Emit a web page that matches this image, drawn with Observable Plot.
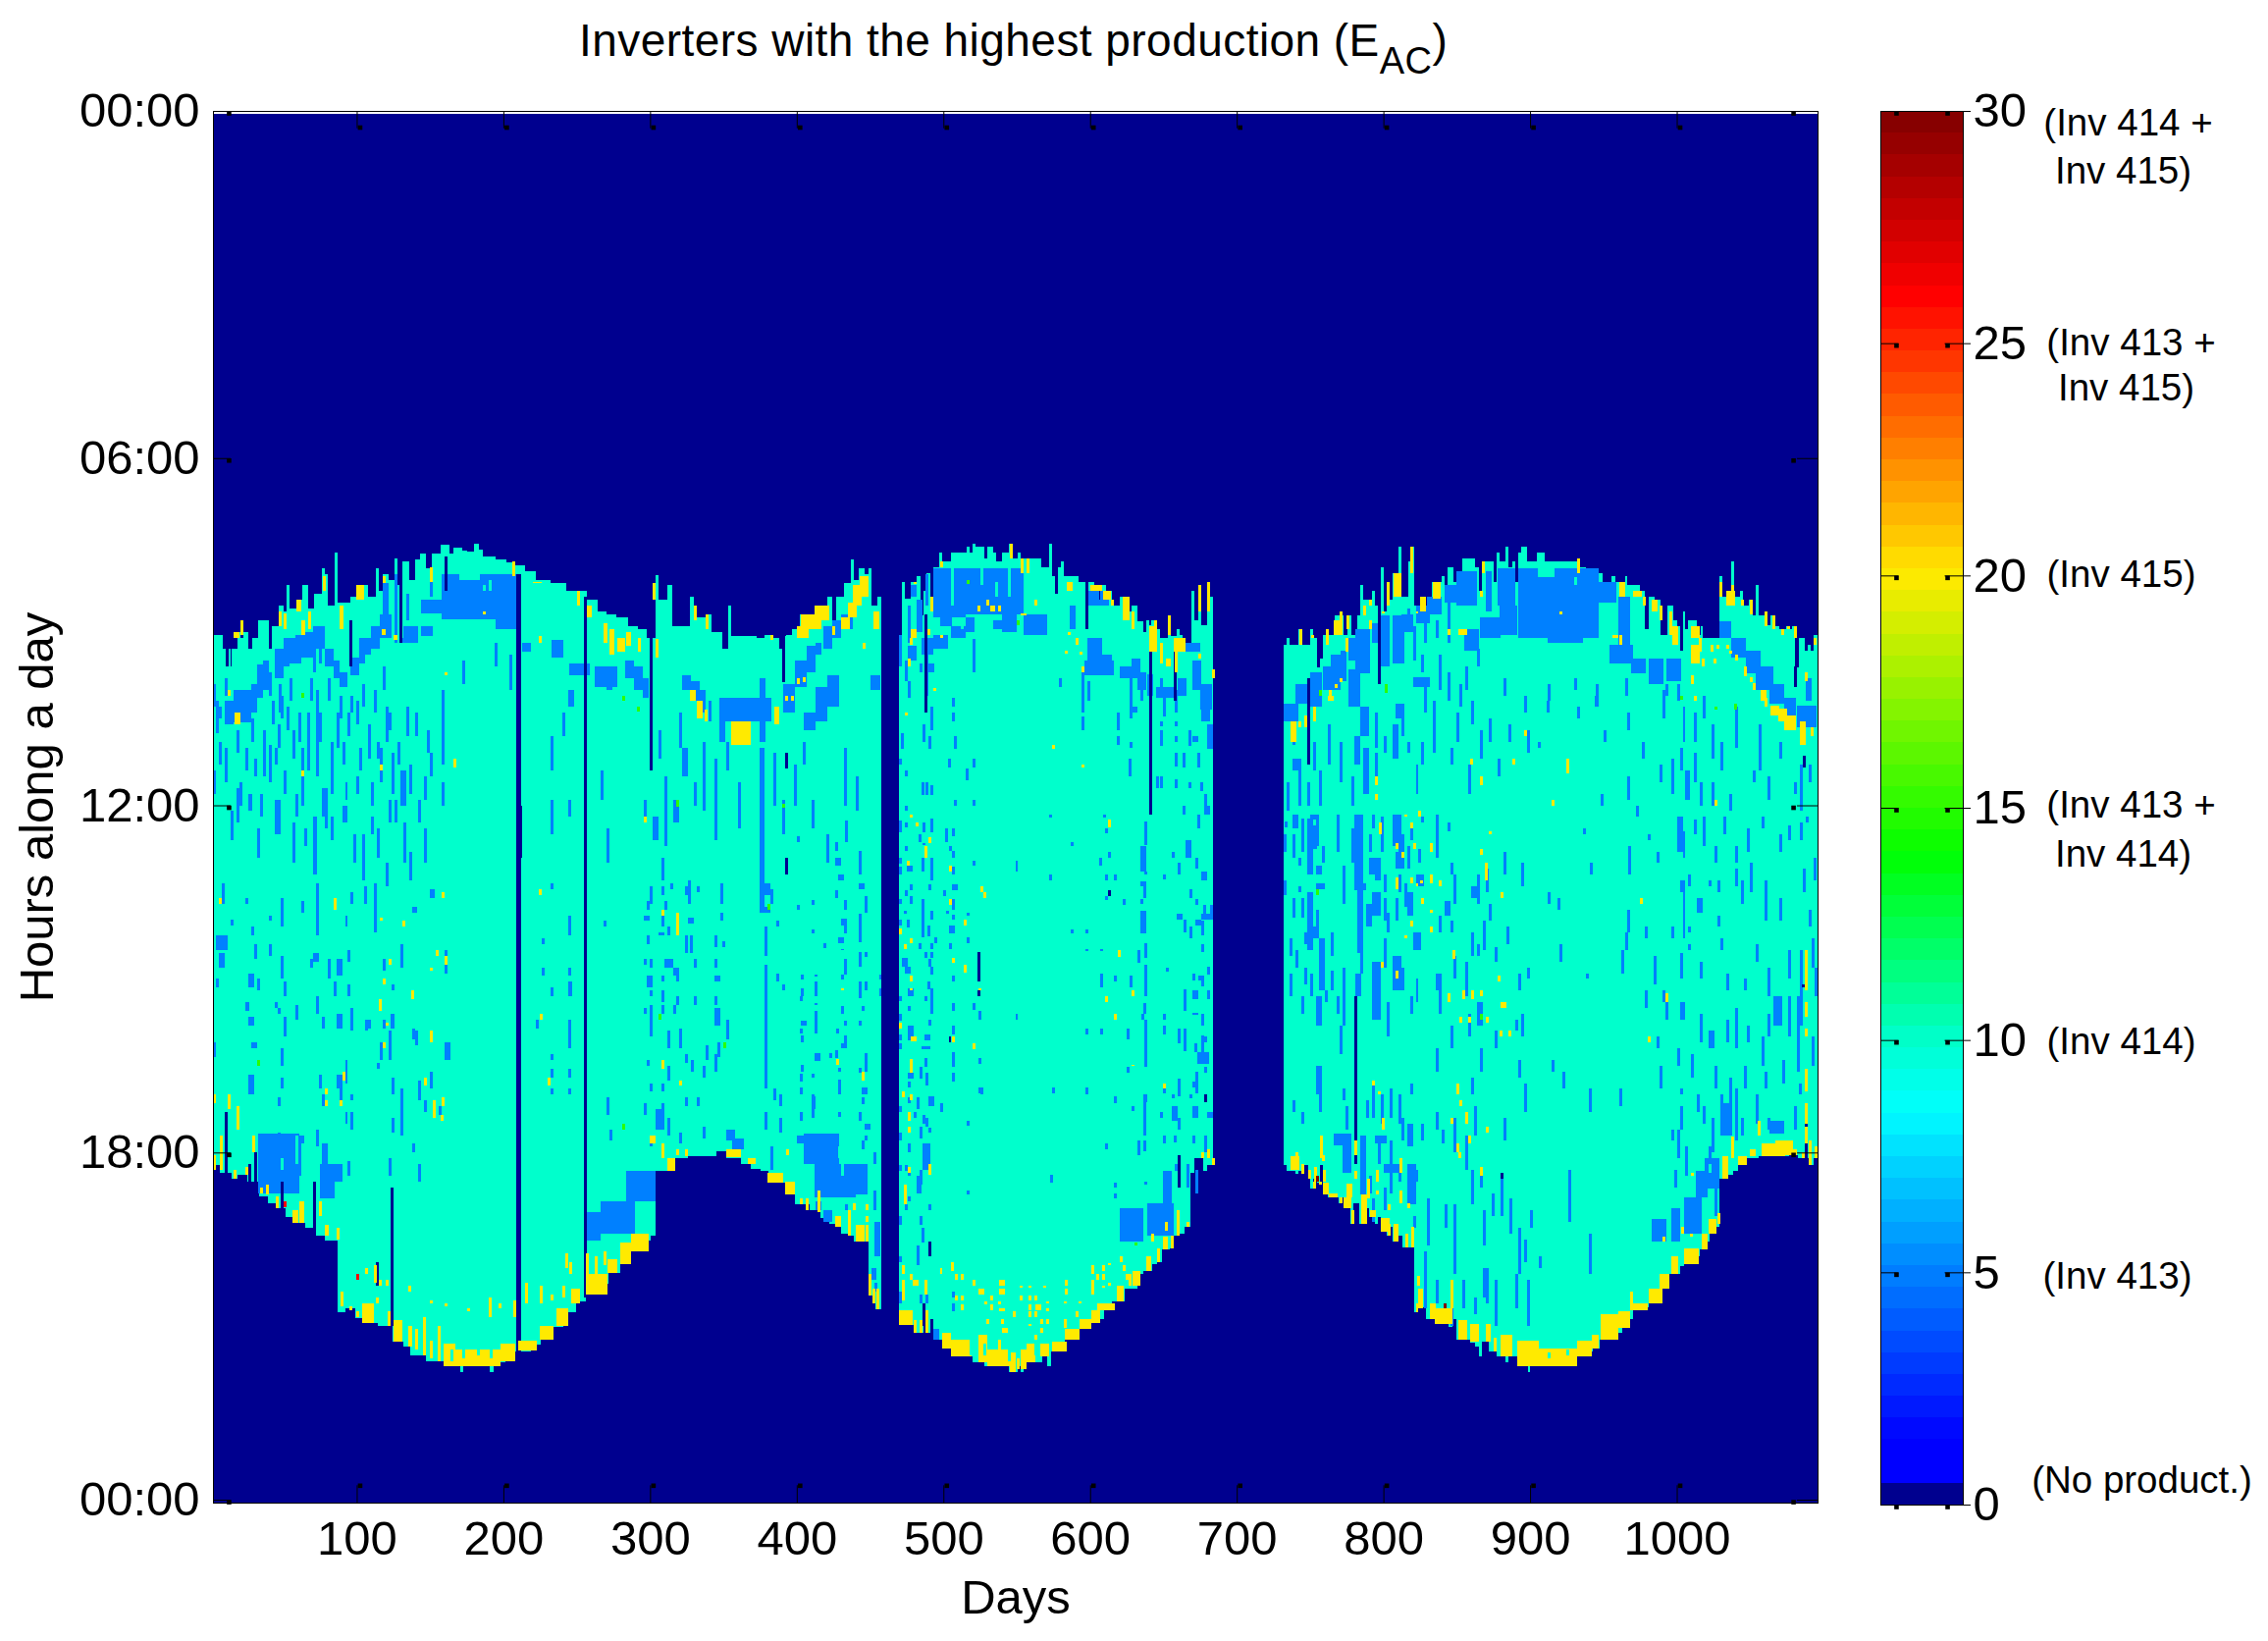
<!DOCTYPE html>
<html><head><meta charset="utf-8">
<script src="https://cdn.jsdelivr.net/npm/d3@7"></script>
<script src="https://cdn.jsdelivr.net/npm/@observablehq/plot@0.6"></script>
<style>
html,body{margin:0;background:#fff}
#c{position:relative;width:2311px;height:1672px;overflow:hidden;font-family:"Liberation Sans",sans-serif}
#c>svg,#c>figure{position:absolute;margin:0}
#t{position:absolute;left:590px;top:11px;font-size:46px;letter-spacing:0.45px;line-height:60px;white-space:nowrap;color:#000}
#t sub{font-size:38px;vertical-align:-18px;line-height:0}
</style></head><body><div id="c"><div id="t">Inverters with the highest production (E<sub>AC</sub>)</div></div>
<script>
// axis values
const dayTicks=[100,200,300,400,500,600,700,800,900,1000];
const hourTicks=[0,6,12,18,24];
const hourLabels=["00:00","06:00","12:00","18:00","00:00"];
const barTicks=[0,5,10,15,20,25,30];
const barNotes=["(Inv 414 +","Inv 415)","(Inv 413 +","Inv 415)","(Inv 415)","(Inv 413 +","Inv 414)","(Inv 414)","(Inv 413)","(No product.)"];
const barNoteValues=[29.75,28.7,25.02,24.04,20.03,15.06,14.0,9.97,4.92,0.53];
const barNoteOffsets=[252,247,255,250,245,255,247,245,241,266];

// sunrise edge of production: [first day, hour]; the last row closes the lobe
const topLobe1=[[2,9.06],[9,9.3],[11,9.6],[13,9.3],[14,9.6],[15,9.3],[19,9],[21,9.1],[23,9],[26,9.3],[29,9.1],[33,8.8],[40,9.3],[42,8.9],[47,8.55],[50,8.65],[52,8.2],[54,8.6],[60,8.45],[63,8.2],[67,8.6],[71,8.35],[76,7.9],[78,8],[80,8.55],[85,7.64],[87,8.5],[96,8.4],[100,8.2],[108,8.4],[113,7.9],[115,8.3],[118,8],[122,8.1],[126,7.74],[128,8.2],[131,7.78],[136,8.1],[140,7.75],[143,7.65],[147,7.9],[151,7.65],[157,7.5],[163,7.65],[166,7.55],[172,7.6],[175,7.62],[180,7.48],[183,7.58],[186,7.7],[195,7.75],[202,7.8],[208,7.85],[215,7.95],[222,8.1],[232,8.15],[243,8.3],[250,8.3],[257,8.45],[264,8.65],[270,8.7],[277,8.75],[285,8.9],[292,8.95],[298,9.1],[304,8.03],[306,8.45],[312,8.2],[315,8.9],[320,8.9],[327,8.4],[330,8.7],[332,8.75],[339,8.7],[342,9],[346,9],[349,9.3],[353,8.55],[355,9.07],[362,9.07],[373,9.1],[378,9.05],[383,9.1],[388,9.3],[390,9.07],[393,9.05],[397,8.95],[402,8.7],[408,8.85],[412,8.7],[417,8.55],[421,8.4],[424,9.05],[427,8.4],[432,8.15],[437,7.75],[439,8.1],[442,7.9],[446,8],[449,7.9],[451,8.55],[455,8.4],[457.5,0]];
const topLobe2=[[470,9.05],[472,8.14],[474,8.43],[478,8.14],[482,8.04],[484.6,8.71],[486.7,8.29],[488.7,7.99],[490.8,8.4],[493,7.89],[497,7.64],[499,7.79],[505.4,7.64],[515.6,7.53],[518,7.64],[520,7.48],[522,7.53],[528,7.74],[530,7.53],[534,7.64],[536,7.79],[540,7.64],[544.5,7.48],[546.6,7.74],[551,7.64],[553,7.74],[567,7.89],[572,7.48],[574,8.04],[578,7.89],[580,7.79],[582,8.04],[592,8.14],[597,8.96],[599,8.14],[603,8.19],[611,8.29],[615,8.55],[620,8.4],[626,8.65],[628,8.55],[632,8.82],[636,9],[638,8.81],[640,8.88],[642,8.81],[644,9.33],[646,8.96],[648,9.1],[653,8.71],[655,9.08],[659,8.96],[661,9.05],[663,9.22],[665,9.22],[669,8.29],[671,8.81],[674,8.19],[676,8.88],[680,8.14],[682,8.4],[683.8,0]];
const topLobe3=[[731.7,9.22],[734,9.1],[736,9.22],[742,8.96],[744,9.22],[750,8.96],[752,9.1],[754.6,9.61],[756.5,9.47],[758.6,9.05],[761,8.96],[763,9.05],[767,8.71],[773,9.05],[775.4,8.71],[778,9.05],[782,8.71],[784,8.19],[786,8.45],[790,8.55],[792,8.29],[794,8.55],[796,8.71],[798,7.89],[800.5,8.65],[802,8.14],[804,8.45],[806.4,7.99],[810.5,7.53],[812,8.4],[816.7,7.79],[819,7.53],[821,8.55],[825,8.4],[829,8.55],[833,8.14],[840,8.04],[842,8.4],[844,7.89],[848,8.14],[850,8.55],[854,7.74],[862.6,7.89],[865,8.29],[867,7.79],[875,8.14],[877.4,7.64],[879,7.79],[883,7.53],[885.5,7.89],[887.6,7.79],[889.6,8.14],[891.7,7.64],[893.6,7.53],[898,7.79],[904.4,7.64],[910,7.79],[933,7.89],[938,7.99],[949.5,8.14],[955.7,8.04],[958,8.14],[965,8.04],[966.5,8.19],[975,8.29],[978.4,8.96],[980.8,8.4],[985,8.45],[989,9.05],[993.5,8.55],[997.8,8.81],[1000,8.91],[1002,9.33],[1004,8.65],[1006,8.96],[1008,8.81],[1014,9.05],[1016.6,8.91],[1018,9.1],[1029,8.04],[1031,8.4],[1037,7.79],[1039.4,8.4],[1043,8.29],[1045,8.55],[1049.4,8.45],[1051.8,8.71],[1053.7,8.19],[1056,8.71],[1062,8.89],[1064,8.71],[1066,8.91],[1070,8.96],[1074.7,8.91],[1076.4,8.96],[1078.8,8.91],[1080.7,9.61],[1083,9.1],[1087,9.33],[1089,9.22],[1091,9.33],[1093,9.05],[1096,0]];

// sunset edge of production: [first day, hour]
const endLobe1=[[2,18.21],[7,18.35],[14.5,18.46],[19,18.38],[25.7,18.5],[33.6,18.75],[39.4,18.88],[44.5,18.97],[51.3,19.12],[56.5,19.22],[65,19.3],[71.8,19.43],[78.6,19.53],[87.2,20.76],[92,20.7],[99,20.86],[106,20.95],[114.5,21],[124.7,21.26],[131.5,21.35],[136.7,21.5],[147,21.6],[159,21.7],[170.8,21.8],[172.5,21.7],[191,21.8],[193.7,21.63],[201.5,21.54],[208.3,21.43],[218.6,21.32],[225.4,21.23],[234,21.01],[240.8,20.76],[249.3,20.58],[256,20.45],[263,20.27],[271.5,20.08],[280,19.93],[286.8,19.71],[293.7,19.53],[300.5,19.43],[304,18.32],[315.8,18.1],[326,18.07],[345,17.98],[351.7,18.1],[362,18.2],[368.7,18.29],[375.6,18.32],[380.7,18.52],[392,18.72],[399,18.9],[408.6,19],[416,19.13],[422,19.23],[426.5,19.28],[430,19.4],[435,19.44],[438.8,19.54],[448.8,20.47],[451.4,20.61],[453.4,20.71],[457.5,0]];
const endLobe2=[[469.8,20.98],[480.3,21.12],[484.7,21.12],[486.7,20.73],[488.7,21.12],[490.8,20.87],[493.4,21.23],[499.5,21.38],[507,21.43],[512,21.53],[520,21.63],[527.7,21.69],[544.5,21.79],[546.6,21.69],[548.6,21.79],[550.7,21.69],[552.7,21.79],[554.8,21.63],[567.3,21.53],[571,21.69],[573.7,21.43],[582.7,21.23],[593,21.04],[600.6,20.95],[605.7,20.87],[609.6,20.73],[614.7,20.58],[623.6,20.36],[632.6,20.1],[636.4,20.05],[642.3,19.93],[645.4,19.9],[648.7,19.68],[654.4,19.65],[657,19.44],[660.8,19.4],[664.6,19.28],[668.4,18.35],[671,18.1],[677.4,18.32],[680,18.21],[683.8,0]];
const endLobe3=[[731.7,18.22],[734,18.31],[740.2,18.37],[742.2,18.31],[744.3,18.37],[746.2,18.22],[748.4,18.46],[750.3,18.62],[752.2,18.46],[754.6,18.52],[756.5,18.22],[758.7,18.72],[762.2,18.78],[769.4,18.88],[771.3,18.78],[773.2,18.97],[775.4,18.88],[777.8,19.23],[779.4,18.88],[783.7,19.23],[788,18.97],[790.2,19.11],[794.5,19.23],[796,19.11],[798,19.37],[802.4,19.44],[804.3,19.28],[806.4,19.54],[808.8,19.44],[812.9,19.64],[814.8,19.54],[817.2,19.64],[821,20.76],[823.2,20.67],[829,20.87],[835.8,20.97],[844.7,21.02],[847,20.87],[850.1,21.23],[859,21.29],[862.6,21.36],[865,21.53],[866.9,21.26],[872,21.43],[877,21.53],[883,21.63],[885.3,21.53],[891.2,21.38],[893.6,21.69],[898.4,21.79],[900,21.69],[912.7,21.6],[915,21.69],[931.8,21.53],[940.2,21.43],[942.6,21.38],[947.4,21.23],[959.3,21.12],[962.9,21.02],[966.5,20.87],[970,20.73],[974.8,20.67],[980.8,20.61],[984.4,20.47],[986.8,20.44],[990.4,20.36],[995.2,20.1],[1002.3,19.96],[1004.7,19.93],[1010.7,19.79],[1015.5,19.68],[1020.2,19.54],[1022.6,19.4],[1026.2,19.28],[1029.3,18.46],[1034.6,18.38],[1038.2,18.32],[1041.7,18.22],[1047.7,18.1],[1056,18.07],[1076.4,18.05],[1082.3,18.1],[1090.7,18.21],[1093.1,18.1],[1095.7,0]];

// rows are [day, from hour, to hour, width in days (2 if omitted)]
const blueMorning=[[158,8,8.79,51],[144,8.45,8.68,14],[144,8.9,9.07,8],[195,8.75,8.95,14],[16,10,10.57,12],[28,10.1,10.4,4],[32,9.56,10.15,4],[36,9.5,10,4],[40,9.7,10.1],[47,9.9,10.4],[50,9.1,9.6,4],[54,9.1,9.55,4],[58,9.05,9.55,4],[70,9.3,9.7],[74,9.2,9.55],[88,9.7,9.95,6],[96,9.45,9.75,6],[102,9.1,9.55,4],[106,9.1,9.4,4],[130,9.1,9.2,12],[126,8,9.2],[118,8.15,8.8,4],[150,7.9,8.4],[213,9.2,9.35,6],[233,9.15,9.45,8],[245,9.55,9.75,14],[262,9.6,9.95,16],[270,9.8,10,4],[283,9.5,9.8,6],[289,9.6,10,6],[295,9.8,10.15,4],[322,9.75,10,6],[328,9.85,10.2,6],[334,10,10.4,4],[340,10.2,10.55],[347,10.15,10.55,36],[347,10.55,10.9,4],[375,9.8,10.9,4],[391,9.9,10.4,8],[399,9.5,9.95,8],[407,9.25,9.7,6],[413,9.2,9.4,4],[418,8.9,9.3,6],[424,8.8,9.1,6],[430,8.7,8.95,8],[405,10.4,10.7,8],[413,9.95,10.55,8],[421,9.75,10.3,8],[450,9.75,10,7],
[493,7.9,8.75,22],[515,7.9,8.7,40],[555,8.7,9.05,16],[478,8.2,8.4,4],[488,8,8.55],[476,9.25,9.5,6],[485,9.1,9.4,8],[493,9.05,9.3,10],[505,8.9,9.1,10],[515,8.75,9,6],[534,8.8,8.95,12],[598,9.1,9.6,10],[596,9.5,9.75,20],[620,9.6,9.8,14],[628,9.47,9.6,6],[599,8.3,8.55,14],[586,8.55,8.95,4],[639,9.73,10.1,4],[645,9.95,10.15,12],[665,9.2,9.35,10],[675,9.9,10.35,8],
[892,7.9,9.1,55],[912,9.05,9.2,24],[946,8.14,8.5,13],[960,8.4,9.3,8],[954,9.22,9.55,16],[969,9.47,9.72,10],[981,9.47,9.9,10],[993,9.47,9.85,10],[850,7.95,8.55,14],[870,7.95,8.65,4],[878,7.9,8.55,12],[879,8.55,9.05,12],[866,8.75,9.1,14],[855,8.95,9.33,10],[1029,8.82,9.1,8],[1037,9.1,9.45,10],[1047,9.33,9.72,10],[1054,9.6,10,12],[1063,9.9,10.25,10],[1073,10.15,10.46,8],[1082,10.27,10.65,13],[1088,9.8,10.2,4],[759,9.6,10,12],[750,9.98,10.3,8],[732,10.25,10.55,10],[771,9.33,9.85,4],[781,8.95,9.72,10],[776,9.65,10.3,8],[784,10.3,10.8,6],[798,8.71,9.6,6],[806,8.71,9.55,8],[808,10.25,10.5,6],[820,9.78,9.95,12]];
const blueBandsExtra=[[10,10.2,10.6,6],[28,9.9,10.2,4],[44,9.3,9.8,6],[62,9,9.45,8],[70,8.9,9.3,8],[78,9.3,9.6,6],[84,9.5,9.8,4],[110,8.9,9.3,6],[116,8.7,9.1,8],[132,8.9,9.1,10],[134,8.35,8.8],[740,9.9,10.25,10],[750,9.7,10,8],[764,9.4,9.7,8],[776,9.1,9.5,6],[792,8.85,9.2,6],[812,8.7,9,8],[822,8.55,8.85,10],[830,8.4,8.7,10],[842,8.2,8.5,8],[605,9.4,9.6,10],[632,9.7,10,6],[660,9.8,10.1,6],[670,9.5,10,6],[476,8.55,9.2],[482,8.45,9,4],[498,8.2,8.9,8],[540,8.7,9,10],
[470,9.05,9.6],[474,9.5,9.85],[476,9.85,10.15],[490,9.55,9.7,4],[484,9.55,9.7],[491,10.3,10.7],[486,10.6,10.9],[490,10.8,11.03],[471,10.75,11.03],[507,10.8,11.03],[506,10.15,10.3],[506,10.4,10.55],[488,9.33,10.1],[470,11.2,11.3],[474,11.4,11.5],[503,11.2,11.35],[520,11.2,11.34],[515,11.37,11.56],[520,9.13,9.55],[520,9.45,9.7],[485,11.6,11.82],[488,11.6,11.82],[491,11.65,11.82],[507,11.9,12],[520,11.9,12],[474,12,12.1],[579,9.8,9.95],[594,9.65,10.4],[598,9.85,10.2],[594,10.46,10.7],[618,10.4,10.7],[618,10.8,10.95],[627,9.8,10.5],[634,9.8,10.2],[628,10.3,10.4,4],[627,10.9,11],[626,11.2,11.5],[648,9.8,10.1],[650,10.1,10.46],[656,9.95,10.1],[658,10,10.4],[648,10.55,10.63],[658,10.55,10.63],[648,10.7,10.97],[658,10.8,10.9],[667,10.7,10.97],[670,10.8,10.9,4],[680,10.6,11.03,4],[676,9.9,10.55,6],[673,11.1,11.35],[663,11.1,11.35],[658,11.1,11.33],[645,11.5,11.7],[648,11.5,11.7],[658,11.55,11.7],[675,11.6,11.75],[667,11.6,11.7],[678,11.8,12.16],[663,12,12.16],[680,12,12.16],
[2,9.9,10.3],[6,10.3,10.5],[10,9.8,10.1],[18,10.7,11.1],[20,11.6,12],[28,10.5,10.9],[30,11.2,11.5],[34,11.8,12.2],[42,10.2,10.6],[44,11,11.3],[48,10.1,10.5],[50,11.4,11.8],[54,9.8,10.2],[56,10.7,11.2],[58,11.8,12.2],[64,12.4,12.7],[68,9.8,10.2],[74,10.4,10.9],[76,11.7,12.2],[80,9.8,10.2],[82,12.2,12.6],[88,10.1,10.5],[90,10.9,11.3],[92,11.6,11.9],[96,10.1,10.4],[98,12.5,13],[100,10.2,10.6],[102,11,11.4],[104,9.9,10.3],[108,10.6,11.2],[110,11.6,12],[114,12.4,12.9],[118,9.6,10],[120,10.3,10.9],[122,11.9,12.3],[128,10.9,11.3],[136,11.3,11.8],[142,11.9,12.3],[148,10.7,11.1]];
const blueEvening=[[33,17.67,18.7,28],[75,18.2,18.8,10],[256,19.03,19.53,10],[266,18.85,19.4,24],[284,18.32,18.85,20],[352,17.6,17.8,6],[356,17.75,17.95,8],[405,17.67,18.2,24],[400,17.7,17.85,28],[412,18.2,18.78,28],[440,18.2,18.72,8],[620,18.97,19.54,16],[639,18.88,19.44,18],[650,18.32,18.88,6],[983,19.14,19.54,10],[996,18.97,19.54,6],[1005,18.78,19.4,12],[1013,18.32,18.78,8],[1019,18.1,18.62,10],[1030,17.14,17.7,8],[1063,17.45,17.67,10],[766,17.67,17.87,12],[772,17.87,18.35,6],[784,17.7,18.72,4],[794,17.7,17.85,8],[800,18.2,18.35,10],[818,18.3,18.5,6]];
const blueLobe1=[[4,10.2,10.75],[6,10.9,11.3],[10,11,11.6],[24,11,11.4],[26,11.8,12.1,3],[36,10.7,11.5],[40,10.95,11.6],[46,10.6,11],[52,10.3,10.7],[60,10.4,10.9],[62,11,12],[66,10.4,11.4],[72,10,11.5],[82,10.9,11.8],[86,10.4,11],[94,10.4,10.8],[100,11.5,11.8],[112,10,10.4],[114,10.9,11.2],[116,11,11.6],[122,10.4,10.7],[124,11.1,11.8],[126,11.9,12.3],[130,11.4,12,4],[134,10.3,10.8],[140,10.4,10.8],[146,11.5,11.9],[150,11.1,11.5],[158,10,11.3],[158,11.6,12],[172,9.5,9.9],[194,9.2,9.6],[204,9.4,10],[232,10.8,11.4],[232,11.9,12.5],[240,10.4,10.8],[244,10,10.3,4],[244,11.9,12.2],[266,11.4,11.9],[270,12.4,13],[296,11.9,12.2],[302,12.2,12.6,4],[306,10.7,11.2],[308,12.9,13.3],[310,11.5,12.7],[316,11.9,12.3,4],[320,10.4,11],[322,11,11.5,4],[326,13.3,13.7],[330,11.6,12],[336,10.9,12.1],[344,11.2,12.6],[352,10.9,11.4],[360,11.6,12.4],[375,11,13.85,3],[384,11.1,12],[390,11.9,12.5],[398,11.3,12],[404,10.9,11.3],[410,11.9,12.4],[420,12.5,13],[432,11,12],[440,11.5,12.1],[2,11.4,11.8],[14,12.1,12.6],[18,11.7,12.3],[32,12.4,12.9],[44,11.9,12.5,4],[56,12.3,13],[70,12.2,13.2,3],[78,11.7,12.4],[90,12,12.3,4],[104,12.5,13.3],[110,12.2,12.5],[120,13,13.4],[132,12.3,13],[136,12.8,13.3],[146,12.4,13],
[8,13.35,13.7,2],[4,14.25,14.5,8],[6,14.55,14.8,4],[4,15,15.15],[14,13.97,14.08],[24,13.6,13.7],[28,14.1,14.25],[30,14.4,14.65],[26,14.9,15.15,4],[32,15,15.2],[24,15.4,15.55,3],[26,15.65,15.8,4],[28,16.1,16.2,4],[26,16.65,17,4],[2,16.1,16.35],[48,13.6,14.1],[40,13.9,14],[40,14.4,14.6],[48,14.6,15],[50,15.05,15.3,2],[46,15.5,15.6],[44,15.4,15.5],[58,15.45,15.7],[50,15.65,16],[48,16.2,16.5],[48,16.7,16.9],[46,17.05,17.2],[40,17.7,18.2,6],[46,17.65,18.3],[52,17.7,18.4,10],[60,17.7,17.85,4],
[72,13.35,13.5],[62,13.65,13.85],[72,14.15,14.25],[70,14.55,14.7,4],[68,14.65,14.8],[72,13.45,14.25],[80,14.65,15,2],[86,14.65,14.95,4],[84,15.05,15.3],[72,15.3,15.6],[76,15.65,15.85],[86,15.6,15.85,4],[96,15.5,15.9,2],[86,16.65,16.9,4],[76,17,17.2],[74,16.65,16.9],[92,16.4,16.8],[88,16.9,17.1],[96,17,17.1],[92,17.3,17.5],[96,17.3,17.6],[72,17.6,17.9],[76,17.85,18.3,4],[84,18.2,18.5,6],[94,18.15,18.4],[92,13.9,14.1],[96,13.5,13.7],[94,14.5,14.7],[94,15.1,15.3],[105,13.4,13.7],
[108,15.7,15.85],[106,15.7,15.9],[112,13.35,13.5],[118,15.7,15.85],[122,15.9,16.1],[112,13.5,14.2],[118,14.65,14.85],[130,14.4,14.8],[138,13.75,13.85,3],[150,13.45,13.6,3],[124,15.1,15.2],[123,15.6,15.85,3],[116,16.1,16.4],[114,16.45,16.55],[124,16.7,17],[122,16.1,16.4],[162,16.1,16.4],[140,15.9,16.15],[138,15.85,16.05],[130,16.9,17.7],[142,16.75,17.1],[150,16.6,16.9],[156,17.2,17.35],[146,17.1,17.3],[124,17.4,17.65],[122,18.1,18.4],[138,17.85,18],[142,18.2,18.5],[160,14.5,14.9],[160,16.1,16.4],
[232,13.35,13.45],[244,13.9,14.25],[226,14.3,14.4],[226,14.8,14.95],[244,14.8,14.95],[244,15.05,15.3,3],[232,15.15,15.3],[222,15.7,15.85],[244,15.7,15.85],[244,15.85,16.2],[232,16.3,16.4],[232,16.55,16.7],[244,16.55,16.7],[232,16.9,17],[244,16.9,17],[268,14,14.1],[270,17.05,17.35],[272,17.6,17.8],[298,13.9,14],[300,13.4,13.7],[308,13.4,13.55],[314,13.35,13.45],[324,13.4,13.55],[332,13.4,13.5],[348,13.35,13.7],[298,13.65,13.8],[310,13.65,13.8],[296,13.9,14],[308,13.9,14.1],[318,13.85,14.25],[326,13.95,14.05,4],[348,13.85,14],[306,14.2,14.25,4],[312,14.1,14.25],[324,14.25,14.55],[327,14.25,14.55],[344,14.25,14.45],[349,14.35,14.45],[298,14.25,14.4],[296,14.65,14.75],[300,14.65,14.8],[310,14.65,14.8,6],[330,14.65,14.8],[344,14.65,14.8],[316,14.8,14.95,4],[344,14.95,15.05,4],[298,14.95,15.15,4],[308,14.95,15.05],[318,14.95,15.05],[300,15.2,15.3],[308,15.2,15.4],[296,15.5,15.6],[318,15.3,15.45],[330,15.3,15.45],[344,15.3,15.45],[300,15.45,15.65],[308,15.45,15.6],[316,15.45,15.6],[344,15.5,15.8,4],[352,15.7,15.85],[300,15.65,16],[312,15.9,16.2],[320,15.85,16.2],[352,15.85,16.05],[338,16.15,16.4],[346,16.1,16.35],[324,16.3,16.45],[336,16.5,16.7],[298,16.4,16.5],[328,16.4,16.6],[344,16.3,16.6],[312,16.5,16.75],[300,16.8,16.95],[308,16.8,16.95],[296,17.15,17.35],[308,17.15,17.35],[324,17.05,17.2],[332,17.05,17.2],[304,17.25,17.6,6],[312,17.4,17.7],[300,17.7,17.9],[320,17.65,17.85],[336,17.55,17.75],
[378,13.35,13.55,4],[382,13.45,13.7],[378,13.75,13.85,4],[378,14.1,14.6],[386,14.0,14.1],[378,14.75,16.9],[386,14.9,15.05],[390,15.1,15.2],[384,16.9,17.1],[378,17.3,17.6],[388,17.0,17.2],[388,17.4,17.65],[382,17.9,18.3]];
const blueLobe2=[[433,12.27,12.64],[400,12.53,12.64],[426,12.64,12.78],[426,12.9,13.04,4],[442,12.78,13.2],[428,13.2,13.29,4],[442,13.35,13.45,4],[426,13.46,13.6],[446,13.57,13.86],[410,13.63,13.72],[400,13.72,13.8],[432,13.63,13.8],[430,13.96,14.08,4],[432,14.08,14.22],[442,13.88,14.36],[410,14.15,14.22],[428,14.28,14.39,4],[418,14.39,14.47],[430,14.48,14.5],[432,14.65,14.93],[442,14.53,14.79],[446,14.53,14.62],[403,14.93,15.01],[430,14.93,15.01],[412,14.92,14.96],[403,15.16,15.3],[412,15.05,15.3],[442,15.05,15.33],[446,15.05,15.2],[456,14.93,15.01],[456,15.16,15.3],[402,15.3,15.38],[412,15.41,15.45],[430,15.47,15.6],[444,15.47,15.55],[412,15.55,15.95],[403,15.72,15.8,4],[432,15.72,15.8],[442,15.72,15.8],[402,15.86,15.95],[427,15.86,15.95],[403,15.98,16.09],[432,15.98,16.12],[430,16.12,16.2,4],[412,16.28,16.42,4],[422,16.29,16.37],[426,16.23,16.37],[446,16.29,16.6],[403,16.48,16.6],[428,16.54,16.6],[442,16.54,16.62],[402,16.63,16.77],[410,16.63,16.71],[428,16.74,16.99],[444,16.88,16.99,4],[402,16.88,16.99],[411,17.02,17.25],[444,17.05,17.16],
[402,17.3,17.45],[410,17.0,17.4],[428,17.3,17.38],[442,17.3,17.45],[446,17.5,17.6,4],[444,17.8,17.95],[446,17.7,17.8],[452,18.0,18.2],[452,18.65,19],[453,19.2,19.8,4],[451,20.0,20.2,3],[453,20.25,20.4],
[470,12.27,12.47],[474,12.29,12.38],[486,12.29,12.47],[491,12.23,12.47],[501,12.39,12.64],[506,12.39,12.53],[483,12.5,12.64],[474,12.7,12.79],[486,12.66,12.69],[504,12.7,12.79],[506,12.79,12.9],[470,12.9,13.01],[485,12.9,13.15],[491,12.9,13.29],[475,13.05,13.15,4],[470,13.06,13.2],[506,13.06,13.2],[520,12.95,13.05],[477,13.36,13.46],[490,13.36,13.46],[506,13.36,13.46,4],[474,13.46,13.56],[500,13.46,13.56],[477,13.57,13.71],[470,13.62,13.71],[485,13.62,14.28],[506,13.62,13.8],[473,13.83,13.87],[491,13.83,13.97],[502,13.83,13.87],[506,13.89,13.97],[516,13.85,13.9],[470,13.97,14.07],[475,13.97,14.11],[489,14.08,14.26],[504,14.08,14.22,4],[494,14.28,14.38],[516,14.28,14.38],[483,14.39,14.48],[491,14.39,14.48],[504,14.39,14.48],[487,14.53,14.63],[491,14.53,14.63],[472,14.64,14.79,4],[490,14.65,14.79],[491,14.79,14.93],[474,14.79,14.9,4],[506,14.94,15.04],[489,15.04,15.18],[476,15.16,15.3,4],[491,15.16,15.6],[470,15.3,15.39],[487,15.3,15.39],[506,15.41,15.55],[476,15.47,15.55],[520,15.41,15.53],[524,15.55,15.71],[470,15.61,15.72],[490,15.71,15.8],[506,15.8,15.96],[476,15.8,16.06,4],[487,15.96,16.06,4],[470,15.96,16.06],[485,16.17,16.22,6],[470,16.12,16.22],[506,16.27,16.52],[487,16.37,16.52],[524,16.37,16.47],[476,16.62,16.72,4],[484,16.52,16.72],[488,16.62,16.85],[506,16.62,16.78],[476,16.78,16.88],[524,16.88,16.98],[490,17.03,17.19,4],[482,17.13,17.25],[470,17.19,17.3],
[476,17.05,17.15],[482,17.05,17.15],[498,17.15,17.3],[486,17.35,17.5],[480,17.3,17.4],[488,17.4,17.55],[484,17.55,17.75],[490,17.57,17.65],[470,17.65,17.8],[476,17.85,18],[486,17.85,18.3,5],[484,18.3,18.55],[476,18.3,18.4],[470,18.22,18.32],[474,18.22,18.32],[482,18.4,18.7,3],[476,18.75,18.85],[490,18.9,19],[474,18.9,19],[470,19.1,19.25],[484,19.1,19.25],[485,19.3,19.55],[470,19.8,19.9],[482,19.6,19.95],[470,20.4,20.6],[484,20.45,20.6],[488,20.45,20.6],[493,21.05,21.23,4],[506,20.4,20.5],[506,20.6,20.75],
[609,12.16,12.22],[610,12.39,12.49],[612,12.8,12.9],[606,12.9,13.05],[610,13.2,13.29],[616,13.2,13.29],[610,13.57,13.63],[622,13.62,13.72],[587,12.64,12.7],[572,12.16,12.22],[572,13.2,13.29],[549,12.95,13.15],[587,14.14,14.22],[597,14.14,14.22],[597,14.48,14.52],[607,14.48,14.52],[607,14.9,15.14],[616,14.95,15.04],[627,14.95,15.15],[625,15.86,16.05],[597,15.86,15.96],[607,15.86,15.96],[549,15.6,15.7],[597,16.88,16.98],[616,17.03,17.13],[625,16.52,16.62],[574,16.88,16.98],
[637,12.28,12.68],[634,12.7,13.15,4],[637,13.15,13.2],[634,13.31,13.4,4],[636,13.4,13.6],[634,13.62,13.71],[634,13.82,14.22,4],[637,14.38,14.63],[632,14.5,14.73],[637,14.75,15.3],[652,14.8,14.88],[636,15.41,15.6],[635,15.6,15.71],[637,15.71,16.52],[650,15.6,15.71],[650,15.8,15.96],[660,15.86,16.12],[664,15.86,16.25],[637,16.99,17.13],[650,16.88,16.98],[660,16.73,17.02],[656,17.0,17.06],[668,17.0,17.06],[672,16.6,16.98],[670,16.78,16.88,4],[678,16.52,16.62],[673,16.27,16.47,8],[671,16.12,16.27],[678,16.0,16.1],[676,15.97,16.27],[664,15.18,15.55],[670,15.58,15.62,4],[676,15.6,15.8],[670,15.2,15.35,4],[680,15.2,15.35],[674,14.95,15.03,4],[676,15.03,15.13],[670,14.9,15.03],[680,14.79,14.93],[676,14.4,14.54],[684,14.25,14.38],[676,14,14.25],[668,14.1,14.3],[672,13.97,14.07,4],[677,13.72,13.95],[676,13.87,13.97,6],[682,13.72,13.97],[659,13.87,13.97,4],[664,13.97,14.2],[650,13.2,13.28],[656,12.8,12.9],[665,12.6,12.9,4],[672,12.9,13.1],[676,13.15,13.3,4],[660,13.0,13.2],[668,13.45,13.6],[672,13.62,13.72],[673,12.16,12.4],
[525,16.87,17],[597,16.87,17],[516,17.45,17.53],[573,18.38,18.52],[516,18.65,18.72],[616,18.52,18.6],[616,18.7,18.8],[637,18.5,18.56],[610,17.85,17.95],[636,17.8,17.98],[632,17.8,18.05],[616,17.06,17.15],[636,17.0,17.2],[628,17.2,17.28],[636,17.2,17.7],[648,17.3,17.4],[656,17.2,17.45,4],[660,17.4,17.6],[670,17.2,17.4,4],[680,17.3,17.4,4],[650,17.7,17.85],[657,17.7,17.82],[670,17.7,17.85],[678,17.7,18],[658,18.2,18.32],[666,18.2,18.6],[672,18.3,18.7],
[436,18.45,18.55],[433,18.9,19],[418,19,19.2,6],[413,18.85,19,4]];
const blueLobe3=[[780,12.16,13.35,6],[780,13.35,13.46,8],[782,13.46,14.56,4],[784,14.56,14.9],[781,14.9,15.3,4],[738,12.16,12.4,4],[733,12.28,12.38],[744,12.23,12.8],[732,12.5,12.8],[738,12.5,12.9],[748,12.23,12.9,4],[754,12.2,12.7],[750,12.16,12.25,6],[751,12.35,12.75,4],[758,12.7,13],[768,12.16,12.8],[778,12.4,13],[742,12.9,13.05],[748,12.9,13.2,4],[754,13.05,13.2,4],[758,12.75,12.85],[772,13.05,13.4],[754,13.35,13.45,6],[772,13.35,13.5],[750,13.5,13.7],[738,13.6,13.95],[744,13.6,13.95],[748,13.5,14.5,4],[752,14.1,14.3,4],[754,13.8,14.1],[772,13.4,13.7],[792,12.16,12.4],[790,12.5,12.8],[798,12.2,12.8],[790,12.9,13.2,4],[794,12.9,13.3,4],[800,13.2,13.5,2],[792,13.5,13.9,6],[788,13.7,14.1,4],[800,13.6,14.0],[806,12.16,12.7,6],[810,12.5,12.8,4],[808,12.8,13.1,6],[810,13.2,13.5],[814,13.35,13.75],[808,13.6,14],[802,13.85,14.2],[826,12.2,12.3],[818,12.3,12.6],[816,12.7,13.1],[824,12.75,13],[822,13.2,13.4,6],[816,13.5,13.9,4],[820,14.2,14.5,6],[836,12.16,12.9],[844,12.3,12.45],[846,13,13.2],[842,13.65,13.9,4],[846,14.0,14.2],[848,14.6,15],[856,14.7,15.3],[860,14.2,14.6],[864,13.2,13.7],[860,13.4,13.6,6],[864,14.4,14.6],[870,13.1,13.5],[868,14.0,14.5],[876,14.45,14.7],[872,13.7,14],[884,14.1,14.4],[892,14.9,15.2],[736,14.9,15.3],[740,14.5,14.8],[746,14.8,15.1],[756,14.3,15.2,4],[764,14.2,14.6],[768,15.3,15.6],[764,14.85,15.2],[744,15.3,15.6],[750,14.9,15.3],[754,15.3,15.8,4],[760,15.2,15.4],[772,14.8,15.8],[770,15.8,16.3],[792,14.7,15.7,6],[800,14.3,14.8],[802,15.4,16],[806,14.6,15.2,6],[812,14.8,15.2],[822,15,15.4],[818,15.3,15.6],[838,13.9,14.2],[836,14.9,15.2,4],[848,13.2,13.7],[838,15.2,15.6],[846,15.8,16.2],[858,15.6,16],[864,15.4,15.8,4],[866,16.2,16.6],[836,16.2,16.6],[876,15.9,16.2],[860,16.7,17],
[738,17.1,17.3],[744,17.3,17.5],[754,16.5,17,4],[756,17,17.3],[774,17.2,17.6],[772,16.9,17.1],[792,16.8,17.4],[788,17.1,17.4],[798,17.0,17.5],[804,16.9,17.4],[810,17.0,17.5],[818,16.8,17],[812,17.4,17.8],[816,17.5,17.9,4],[826,17.5,17.8],[836,17.3,17.6],[840,17.6,17.85],[848,17.4,18],[856,17.7,18.3],[862,17.2,17.7],[796,17.8,18.2],[804,17.8,18.7],[810,18.2,18.5],[790,18.4,18.7],[792,18.8,19.2],[800,18.6,19],[816,18.2,18.9,6],[820,19.1,19.3],[830,18.8,19.6],[828,19.7,20],[842,18.9,19.3],[848,18.9,19.5],[848,19.5,20.1],[860,18.3,18.9],[866,18.3,18.6],[868,19,19.6],[874,18.7,19.1],[880,18.4,19.1],[882,17.4,17.8],[868,20,20.5],[846,20.5,21],[870,20,20.6],[876,20.2,21],[892,19.3,20.1],[896,19.5,19.9],[898,20.2,21],[890,20.1,20.7],[828,20,20.7],[836,20.2,20.6],[854,20.2,20.7],[862,20.5,20.8],[940,19.4,20.1],[998,18.3,18.6],[1000,17.6,18.1],[996,17.6,17.8],[1006,17.9,18.4],[1018,17.2,17.5],[1024,17.4,18],[1026,18.6,19.1],[1030,17,17.2],[1022,17.9,18.2],[1036,16.9,17.5],[1040,17,17.8],[1044,17.4,17.7],[1040,16.9,17],[1054,17.0,17.5],[1062,17.4,17.6],[1080,17.2,17.6],[1083,16.8,17],[1036,16.7,16.9],[1002,16.9,17],
[732,13.3,13.55],[736,14.3,14.6],[746,14.2,14.4],[742,13.4,13.5],[1000,12.2,12.8,4],[1004,12.45,12.9],[1002,13.3,13.5,4],[1008,13.2,13.4],[1012,12.25,12.5],[1018,12.2,12.7],[1026,12.7,13],[1022,13.3,13.4],[1014,13.6,13.85,4],[1004,13.5,14.3],[1008,14.1,14.2],[996,14.1,14.3],[1002,14.55,15],[1008,14.4,14.5],[1016,14.7,15],[1030,14.3,14.5],[1028,13.9,14.1],[1044,13.3,13.7],[1034,14.9,15.2],[1046,15,15.2],[1040,12.7,13],[1050,13,13.5],[1060,13.3,14],[1054,14.4,14.7],[1062,14.8,15.3],[1070,13.6,14],[1076,14.5,15],[1084,14.5,15.8],[1092,14.3,14.8],[1082,15.3,16.5],[1094,14.8,15.3],[1084,12.3,12.6],[1090,13.8,14.1],[1016,15.6,16.1],[1002,15.4,15.7,4],[1040,15.5,16.2],[1048,15.8,16.1],[1034,15.7,16.1],[1022,15.9,16.2,4],[1058,16,16.5],[1062,15.6,16],[1066,15.3,15.8,6],[1076,15.3,16],[1082,16.3,16.6],[1092,16,16.5],[1010,16.3,16.7],[1000,16.2,16.5],[1014,17,17.3],[1046,16.5,16.9],[1026,16.5,16.9],[1002,17.2,17.6],[1060,16.6,16.9],[1072,16.4,16.8],[922,16.6,16.9],[890,15.7,15.9],[892,16.4,16.7],[1040,13.1,13.4],[1028,13.3,13.5],[965,14.2,14.5],[978,14.1,14.3],[978,15.2,15.5],[990,15.2,15.4],[962,14.5,14.9],[992,15.3,15.7],[986,16,16.2],[988,16.5,16.9],[961,16.9,17.2],[984,14.6,15.1],[940,16.9,17.3],[938,14.9,15],[920,14.4,14.7],[919,13.6,13.8],[936,12.4,12.5],[941,13,13.2],[967,12.7,13.2],[980,12.5,12.6],[986,12.8,13],[966,13.8,14.2],[1032,12.2,12.5],[1048,12.4,12.8],[1058,12.2,12.4],[1070,12.5,12.8],[1076,12.35,12.6],[1088,12.2,12.3],[1086,13.1,13.5],[1093,12.9,13.3],
[906,19.8,20],[882,12.8,13.2],[894,13,13.4],[898,14.8,15],[894,15.6,16],[896,16.8,17.3],[912,13.5,13.7],[926,18.3,19.2],[915,16.4,16.6],[900,19,19.3],[886,18.8,19.4],
[912,9.9,10.2],[911,10.2,10.4],[905,10.9,11],[930,9.8,10],[945,9.9,10.3],[944,10.1,10.3],[932,10.3,10.5],[965,9.8,10.1],[966,10.4,10.7],[990,10,10.5],[992,9.9,10.1],[1000,9.9,10.2],[1004,10.3,10.9],[1012,10.4,10.9],[1018,10.1,10.5],[1024,10.6,11.2],[1030,10.9,11.4],[1040,10.3,11],[1056,10.6,11.4],[1070,10.9,11.2],[1084,11.3,12.1],[1080,11.6,11.8],[1090,11.3,11.6],[1002,11,11.4],[996,11.2,11.8],[1006,11.4,11.9,3],[1012,11.1,11.6],[1024,11.6,12],[1016,11.6,12],[1036,11.8,12.1],[1052,11.4,11.6],[1062,11.5,11.9],[976,10.9,11.2],[988,11.3,11.6],[966,11.5,11.9],[972,12,12.2],[950,10.7,10.9],[948,11.8,12],[882,9.8,10.1],[885,10.6,10.9],[896,10.1,10.4],[898,10.7,11.1],[878,11.2,11.5],[872,10.5,10.9],[860,10.2,10.6],[866,10.7,11.2],[858,11.3,11.8],[850,10.4,10.9],[844,9.7,10.2],[838,9.4,10],[846,11,11.3],[834,10.2,11.1],[828,9.8,10.4],[826,10.9,11.3],[822,11.3,11.8],[816,10.9,11.1],[812,10.5,10.8],[806,10.6,11.2,4],[800,10.8,11.1],[794,10.4,11],[794,11.1,11.6],[786,11,11.8,4],[780,10.8,11.3,4],[778,11.5,12],[770,10.9,11.6],[762,10.6,11.3],[756,11.4,12],[752,10.9,11.4],[748,11.6,12],[742,11.3,12],[738,11.2,11.4,6],[734,11.6,12.1],[738,10.6,10.95],[856,9.6,10],[852,9.9,10.3],[864,9.3,9.6],[820,8.9,9.5],[826,9.4,9.7],[816,8.6,9],[844,8.5,9.2],[828,8.75,9.2],[836,8.8,9.1]];

const navyStripes=[[209,8,21.54,3],[209,12,12.9,4],[255,8.4,20.5,2],[300,9.1,11.4,2],[129,8,9.2,2],[95,8.8,9.6,2],[160,7.7,8.3,2],[390,9,9.87,2],[392,11.1,11.36,2],[392,12.9,13.2,2],[10,17.3,18.35,2],[30,18,18.5,2],[26,18.2,18.5,2],[48,18.5,19,2],[70,18.5,19.45,2],[113,19.9,20.3,2],[123,18.6,21,2],[458,0.05,24.05,12],[640,9.3,12.16,2.5],[487,8.7,10.4,2],[657,9.35,10.2,2],[606,8.05,8.45,1],[576,8.0,8.35,2],[490,19.54,19.8,2],[523,14.53,15.04,2],[523,15.2,15.3,2],[612,13.46,13.56,2],[504,16,16.1,1],[678,16.99,17.13,2],[660,18.05,18.6,2],[486,20.6,21,2],[748,9.8,11.3,2],[796,8.7,9.9,2],[780,15.3,18.2,2],[780,19.1,19.3,2],[1080,9.6,9.95,2],[1086,11.15,11.35,2],[1085,15.1,15.15,2],[1087,17.5,18.2,2],[880,18.35,18.45,2],[730,0.05,24.05,1.5],[684,0.05,24.05,48]];
const yellowCells=[
[16,9,9.1,4],[21,8.8,9.05],[47,8.65,8.9],[50,8.68,8.95],[59,8.45,8.65,3],[62,8.8,9.05,3],[67,8.65,8.95],[77,8.04,8.3,2],[88,8.55,8.95,3],[100,8.2,8.45,5],[118,8.04,8.15],[117,8.96,9.05,3],[150,7.89,8.14],[206,7.79,8.04],[220,8.14,8.15,6],[224,9.07,9.2],[250,8.3,8.55],[257,8.55,8.75,3],[268,8.85,9.2,3],[272,8.95,9.4,4],[278,9.1,9.35,5],[284,9,9.25,3],[292,9.1,9.35],[302,8.15,8.45],[304,9.12,9.45],[330,8.55,8.8],[338,8.7,8.96],[327,10,10.2,4],[332,10.2,10.5,4],[337,10.35,10.55],[355,10.55,10.95,14],[385,10.3,10.6,3],[382,9.05,9.15],[400,8.9,9.1,8],[403,8.7,8.95,14],[412,8.55,8.8,10],[424,8.9,9.05],[430,8.75,8.95,6],[435,8.5,8.75,6],[438,8.2,8.55,6],[443,8.04,8.4,6],[452,8.65,8.96,4],[12,10.0,10.1],[17,10.4,10.6,4],[62,11.4,11.5],[116,11.3,11.4],[125,9.05,9.15,3],[160,9.7,9.75],[166,11.2,11.35],[186,8.65,8.7],[296,12.2,12.3],[400,9.8,9.9],[396,10.1,10.2],[445,9.2,9.3],[6,13.6,13.7],[2,18.05,18.3],[7,17.7,18.3],[16,18.3,18.46],[24,18.25,18.38],[29,17.7,18],[34,18.6,18.7],[38,18.55,18.73],[45,18.75,18.97],[56,19,19.22,4],[61,18.85,19.22,3],[74,18.85,19.1],[78,19.25,19.43,3],[86,19.3,19.5],[89,20.4,20.65],[95,20.65,20.72],[100,20.75,20.85],[104,20.6,20.95,8],[112,19.95,20.25],[113,20.5,20.6],[120,20.2,20.3],[121,20.75,21],[125,20.9,21.26,6],[135,21,21.35,3],[140,21.05,21.4],[145,20.85,21.5],[150,21.25,21.55],[155,21,21.6],[159,21.3,21.7,8],[167,21.4,21.7,31],[198,21.3,21.6,10],[210,21.25,21.42,13],[225,21,21.23,9],[236,20.7,21,8],[246,20.35,20.6,6],[256,20.1,20.45,15],[271,19.85,20.08,7],[280,19.55,19.93,7],[287,19.4,19.7,12],[312,18.1,18.32,5],[352,17.95,18.08,10],[367,18.1,18.2,5],[380,18.35,18.52,11],[324,17.95,18.07],[318,17.95,18.05],[302,17.7,17.85],[308,17.85,18.1],
[106,20,20.1],[115,20.2,20.3],[135,20.3,20.4],[150,20.55,20.6],[160,20.6,20.65],[175,20.7,20.75],[190,20.5,20.85],[197,20.6,20.7],[207,20.55,20.85],[215,20.25,20.6],[225,20.3,20.6],[240,20.3,20.5],[232,20.45,20.55],[242,19.75,20],[245,19.9,20.1],[256,19.75,20.1],[262,19.8,20.2],[268,19.7,19.95],[115,15.35,15.55],[131,14,14.1],[137,15.2,15.35],[118,16.1,16.2],[118,15,15.1],[150,14.8,14.85],[150,16,16.1],[154,14.5,14.6],[158,13.5,13.6],[160,14.6,14.75],[120,15.75,15.8],[122,14.65,14.75],[116,13.95,14],[84,13.6,13.8],[78,16.9,17],[78,17.1,17.2],[88,17.1,17.2],[90,16.6,16.75],[150,15.9,16],[146,16.7,16.85],[152,17.1,17.4],[158,17.05,17.2],[157,17.35,17.45],[224,13.45,13.55],[225,15.6,15.7],[230,16.7,16.85],[308,13.8,13.9],[318,13.85,14.25],[308,16.4,16.55],[320,16.75,16.85],[300,17.7,17.85],[12,17.0,17.25],[2,17.0,17.15],[18,17.2,17.6],
[402,18.8,18.9],[406,18.8,19],[414,18.65,19.03],[426,19.1,19.28,4],[435,19,19.44],[440,19.25,19.54,6],[447,18.9,19],[447,19.1,19.2],[447,19.25,19.54],[449,20.1,20.47],[451.4,20.35,20.61],[454,20.35,20.71],[392,18.5,18.72,7],[393,17.95,18.05],[438,18.88,19],[473,18.55,18.9,2],[470,20.72,20.98,9],[480,20.9,21.12],[484,20.9,21.12],[488,20.73,21.12],[499,21.12,21.38,6],[505,21.23,21.53,14],[524,21.15,21.63,6],[530,21.4,21.69,15],[537,21.23,21.4],[545,21.45,21.79,4],[550,21.4,21.75],[553,21.4,21.75,4],[557,21.3,21.63,6],[566,21.3,21.53,6],[574,21.27,21.43,10],[583,21.04,21.23,10],[593,20.87,21.04,8],[601,20.73,20.95,6],[605,20.6,20.73,12],[618,20.3,20.58,5],[629,20.05,20.3,5],[638,19.8,20.05,4],[646,19.65,19.9],[650,19.45,19.68,3],[655,19.44,19.65],[659,19,19.44],[666,19.2,19.28],[651,19.2,19.36],[642,19.4,19.54],[676,18,18.1],[680,17.95,18.1],[683,18.1,18.21],[480,8.14,8.18],[478,8.96,9.1,4],[477,9.1,9.22],[489,8.96,9.05],[491,8.4,8.65],[498,7.79,7.89],[545,7.48,7.74],[553,7.74,7.99],[557,7.74,7.99],[523,8.55,8.65],[529,8.45,8.55],[532,8.55,8.65,3],[537,8.55,8.65],[553,8.68,8.72,4],[562,8.45,8.55],[584,8.14,8.29,4],[600,8.19,8.29,8],[609,8.29,8.45,5],[614,8.45,8.55],[622,8.4,8.8,5],[628,8.65,8.95],[640,8.9,9.35,6],[644,8.8,9.2],[648,9.2,9.55],[653,8.71,9.05],[657,9.1,9.35,8],[658,9.35,9.7],[652,9.47,9.6,3],[674,8.19,8.65],[680,8.14,8.65],[683,9.65,9.8],[674,9.38,9.47],[476,9.47,9.6],[392,10.1,10.2],[404,9.78,9.87],[585,9,9.05],[590,9.1,9.22],[583,9.33,9.38],[593,9.35,9.4],[594,9.6,9.7],[498,9.05,9.1],[493,9.98,10.02],[474,10.4,10.45],[574,10.95,11.02],[594,11.3,11.35],
[477,12.16,12.22],[481,12.29,12.37],[490,12.55,12.65],[487,12.7,12.9],[475,12.95,13.04],[504,13.05,13.15],[525,13.4,13.5],[527,13.5,13.6],[504,13.62,13.72],[514,13.97,14.07],[470,14.13,14.23],[477,14.3,14.38],[473,14.4,14.48],[506,14.64,14.73],[514,14.75,14.89],[477,14.95,15.04],[477,15.16,15.2],[524,15.16,15.2],[610,15.3,15.4],[628,15.2,15.3],[616,15.6,15.7],[470,15.75,15.85],[478,16,16.08,4],[506,16,16.09],[520,16.12,16.22],[477,16.38,16.62],[619,14.5,14.62],[650,16.8,16.9],[628,16.48,16.5],[612,12.24,12.38],[430,15.16,15.2],[427,16.38,16.48],[444,16.6,16.75],[472,16.95,17.04],[477,17,17.05],[476,17.3,17.45],[476,17.55,17.65],[490,18.2,18.38],[476,18.25,18.35],[477,17.0,17.1],[472,19.95,20.1],[477,20.1,20.2],[472,20.2,20.55],[479,20.2,20.3,4],[487,20.2,20.46],[498,20,20.1,1],[505,19.9,20.05],[508,20.1,20.2],[512,20.1,20.2],[520,20.2,20.3],[538,20.2,20.3,4],[524,20.35,20.45,4],[538,20.35,20.45,4],[552,20.3,20.33],[558,20.3,20.33],[568,20.3,20.33],[583,20.2,20.3],[583,20.35,20.45],[601,19.95,20.1],[608,19.95,20.05],[612,19.92,19.95],[604,20.1,20.2],[608,20.1,20.2],[612,20.25,20.3],[601,20.2,20.45],[608,20.3,20.33],[622,19.95,20.05],[620,19.8,19.9],[624,20.1,20.2],[626,20.1,20.3],[508,20.47,20.55],[512,20.47,20.55],[512,20.62,20.72],[532,20.47,20.55],[528,20.58,20.62],[537,20.58,20.62],[532,20.62,20.72],[552,20.47,20.55],[558,20.47,20.55],[562,20.47,20.55],[563,20.62,20.72,4],[558,20.62,20.72],[570,20.58,20.6],[582,20.58,20.6],[592,20.58,20.6],[547,20.75,20.85],[558,20.75,20.85],[562,20.75,20.85],[570,20.7,20.75],[538,20.7,20.75,4],[529,20.87,20.97],[539,20.87,20.97],[566,20.87,20.97],[570,20.87,20.97],[540,21.03,21.12,4],[558,20.97,21],[566,21.03,21.12],[562,21.15,21.23],[582,20.87,21.03],[590,20.75,20.85],
[737,10.55,10.9,4],[742,10.55,10.65],[746,10.45,10.65],[752,10.3,10.55],[762,10.1,10.2,4],[763,10,10.1],[767,9.9,9.97],[770,9.8,9.87],[743,8.96,9.22],[751,9.05,9.1],[761,8.96,9.22],[766,8.8,9.05,6],[770,8.65,9.05],[775,8.71,8.96],[774,9.1,9.35],[790,8.8,8.96],[786,8.55,8.71],[790,8.45,8.55],[799,8.65,8.68],[802,8.14,8.55],[807,7.99,8.4,5],[818,7.53,7.99],[822,8.65,8.68],[825,8.4,8.65,4],[834,8.14,8.43,5],[844,8.96,9.05],[851,8.96,9.05,6],[866,8.3,8.4],[867,7.79,7.99],[932,7.74,7.99],[920,8.65,8.7],[956,9.05,9.1,4],[961,9.05,9.22],[961,8.14,8.4,4],[970,8.3,8.4,6],[977,8.4,8.55],[983,8.45,8.65,4],[988,8.55,8.81],[995,8.65,9.05],[997,8.9,9.22,4],[1010,8.9,9.1,6],[1010,9.22,9.55,6],[1015,9.1,9.35],[1017,9.47,9.6],[1023,9.22,9.35],[1027,9.22,9.3],[1025,9.47,9.55],[1029,8.14,8.4],[1034,8.3,8.55,6],[1037,8.19,8.29],[1044,8.45,8.55],[1050,8.45,8.7],[1060,8.65,8.9],[1065,8.71,8.96],[1071,8.96,9.05],[1075,8.91,8.96],[1080,8.91,9.1],[1034,9.22,9.3],[1036,9.33,9.38],[1040,9.4,9.5],[1046,9.6,9.77],[1050,9.78,9.87],[1052,9.88,10],[1057,10,10.2,4],[1060,10.15,10.3],[1064,10.27,10.45,6],[1069,10.33,10.55,6],[1073,10.45,10.7,8],[1084,10.55,10.95,4],[1091,10.65,10.8],[1087,9.7,9.85],[1093,9.1,9.22],[1010,9.75,9.9],[1012,10.1,10.2],
[896,10.7,10.8],[859,11.2,11.3],[888,11.2,11.3],[925,11.2,11.45],[866,11.5,11.65],[915,11.9,12],[1026,11.9,12],[794,11.5,11.65],[794,11.8,11.9],[824,12.1,12.2],[797,12.3,12.5],[818,12.3,12.4],[808,12.65,12.75],[820,12.65,12.75],[832,12.65,12.8],[812,12.8,12.9],[814,12.16,12.2],[872,12.45,12.5],[866,12.75,12.85],[869,13,13.3],[880,13.5,13.6],[808,13.25,13.35],[818,13.25,13.35],[825,13.3,13.35],[832,13.2,13.35],[808,13.35,13.45],[822,13.35,13.4],[826,13.6,13.7],[832,13.8,13.85],[818,14,14.1],[798,14.7,14.8],[814,14.25,14.3],[808,14.85,15],[847,14.5,14.65],[844,15.25,15.4],[854,15.2,15.35],[860,15.2,15.35],[866,15.2,15.3],[878,14.95,15.05],[880,15.4,15.5],[882,15.4,15.5],[852,15.65,15.75],[858,15.65,15.75],[870,15.65,15.75],[879,15.9,16],[885,15.9,16],[1087,14.5,15.2],[1087,15.4,15.65],[1087,15.85,16],[1087,16.55,16.95],[1087,17.15,17.5],[1087,17.55,17.85],[980,16.0,16.1],[992,15.25,15.4],[975,13.6,13.7],[838,13.3,13.4],[832,14.1,14.2],[799,17.4,17.6],[796,16.95,17],[850,16.8,17],[856,17.3,17.5],[858,17.7,17.85],[846,17.4,17.5],[850,17.85,18],[851,18,18.1],[852,17.1,17.2],[870,17.55,17.65],[866,18.25,18.4],[792,16.75,16.85],[737,18.07,18.3,6],[744,18.2,18.37],[740,18,18.25],[753,18.25,18.5],[757,17.7,18.1],[758,18.05,18.15],[759,18.3,18.5],[749,18.3,18.46],[752,18.5,18.62],[756,18.5,18.55],[759,18.52,18.72,4],[763,18.7,18.78,6],[775,18.53,18.78,4],[770,18.78,18.88],[773,18.78,18.97,5],[778,19,19.23],[780,17.8,18.05],[780,18.32,18.46],[785,18.72,19.23,4],[789,18.45,18.8],[791,19,19.11,4],[795,18.3,18.5],[795,18.65,18.72],[798,19.13,19.37,6],[803,18.9,19],[803,19.23,19.44],[807,19.23,19.54,3],[811,18.1,18.35],[811,18.65,18.88],[816,18.88,18.97],[815,19.4,19.64],[819,19.28,19.64],[823,20.13,20.3],[822,20.6,20.76],[824,20.35,20.7,3],[832,20.6,20.87,4],[835,20.7,20.97,12],[846,20.2,20.7],[851,20.9,21.23,6],[859,20.97,21.26,6],[870,20.97,21.26,3],[875,21.2,21.43],[880,21.15,21.53,8],[891,21.25,21.69,15],[906,21.38,21.69,26],[932,21.25,21.53,10],[942,21.15,21.38,5],[948,20.8,21.23,12],[960,20.75,21.03,8],[968,20.4,20.73],[970,20.6,20.73,10],[981,20.35,20.6,9],[988,20.1,20.36,7],[996,19.8,20.1,5],[1005,19.65,19.93,10],[1017,19.4,19.68,4],[1022,19.14,19.4,5],[1028,19.05,19.23],[1031,18.07,18.46,4],[1037,17.73,18.1],[1042,18.07,18.22,6],[1050,17.95,18.07,4],[1055,17.45,17.7],[1058,17.85,18.07,16],[1067,17.8,18.05,12],[1078,17.95,18.05,4],[1085,18,18.1],[1090,17.8,18.21],[1094,17.9,18.1],
[1010,18.35,18.4],[1003,19.28,19.4],[1009,19.4,19.45],[990,19.45,19.54]];
// slits where inverter 414 still leads inside a blue or yellow patch
const tealSlits=[[505,7.9,8.55],[525,7.9,8.2],[535,8.14,8.4],[544,7.9,8.4],[565,8.35,8.6],[556,8.4,8.5],[512,8.75,8.95],[164,21.4,21.6],[172,21.4,21.55],[182,21.4,21.5],[191,21.4,21.55],[518,21.2,21.5],[527,21.3,21.5],[544,21.4,21.6],[550,21.35,21.55],[562,21.3,21.5],[912,21.45,21.55],[925,21.4,21.5],[170,8,8.1,14],[186,8.2,8.3],[190,8.1,8.3],[905,7.9,8.05,12],[930,8.05,8.2],[48,18.1,18.3],[58,17.7,18.2],[428,17.9,18.1],[430,18.2,18.4],[1022,18.2,18.35]];
const greenCells=[[62,10.05,10.15],[281,10.1,10.2],[291,10.3,10.38],[318,11.9,12.02],[390,11.98,12.05],[32,16.4,16.5],[306,15.6,15.7],[380,13.7,13.8],[516,8.1,8.18],[550,8.8,8.88],[630,19.55,19.6],[756,10.0,10.1],[801,9.9,10.05],[1002,10.1,10.18],[1026,10.3,10.35],[1039,10.25,10.35],[754,13.45,13.55],[866,15.6,15.7],[281,17.5,17.6],[350,16.1,16.2]];
const redCells=[[50,18.85,18.95],[100,20.1,20.2]];
const darkRedCells=[[754,18.4,18.5],[841,20.6,20.7]];

const toCells=(rows,v)=>rows.map(([d,h1,h2,w=2])=>({d,h1,h2,w,v}));
const runs=(rows,side,v)=>rows.slice(0,-1).map(([d,h],i)=>({d,w:rows[i+1][0]-d,h1:side==="top"?h:14,h2:side==="top"?14:h,v}));
const cells=[
  {d:2,w:1094,h1:0.05,h2:24.05,v:0},
  ...[topLobe1,topLobe2,topLobe3].flatMap(r=>runs(r,"top",10)),
  ...[endLobe1,endLobe2,endLobe3].flatMap(r=>runs(r,"end",10)),
  ...[blueMorning,blueBandsExtra,blueEvening,blueLobe1,blueLobe2,blueLobe3].flatMap(r=>toCells(r,5)),
  ...toCells(navyStripes,0),
  ...toCells(yellowCells,20),
  ...toCells(tealSlits,10),
  ...toCells(greenCells,15),
  ...toCells(redCells,26),
  ...toCells(darkRedCells,30)
];
const colorScale={type:"linear",domain:[0,0.47,0.48,1.4,5,8.5,10,14,20,26,30],
  range:["#00008f","#00008f","#0000ff","#0000ff","#0080ff","#00ffff","#00ffcc","#00ff00","#ffea00","#ff0000","#800000"],interpolate:"rgb",clamp:true};
const tickFont={fontFamily:"Liberation Sans",fontSize:49,fill:"#000"};
const main=Plot.plot({
  width:2311,height:1672,marginLeft:217,marginRight:459,marginTop:113,marginBottom:141,
  style:{background:"transparent",fontFamily:"Liberation Sans",overflow:"visible"},
  x:{domain:[2,1096]},
  y:{domain:[0,24.05],reverse:true},
  color:colorScale,
  marks:[
    Plot.rect(cells,{x1:"d",x2:d=>d.d+d.w,y1:"h1",y2:"h2",fill:"v",shapeRendering:"crispEdges"}),
    Plot.axisX({ticks:dayTicks,anchor:"bottom",tickSize:0,tickPadding:18,tickFormat:d=>String(d),label:"Days",labelAnchor:"center",labelArrow:"none",labelOffset:112,...tickFont}),
    Plot.axisY({ticks:hourTicks,anchor:"left",tickSize:0,tickPadding:14,tickFormat:h=>hourLabels[hourTicks.indexOf(h)],label:"Hours along a day",labelAnchor:"center",labelArrow:"none",labelOffset:198,...tickFont}),
    Plot.ruleX(dayTicks,{x:d=>d,y1:0,y2:0.3,stroke:"#000",strokeWidth:1}),
    Plot.ruleX(dayTicks,{x:d=>d,y1:23.75,y2:24.05,stroke:"#000",strokeWidth:1}),
    Plot.dot(dayTicks,{x:d=>d,y:()=>0.28,symbol:"square",r:2.6,fill:"#000",dx:3}),
    Plot.dot(dayTicks,{x:d=>d,y:()=>23.75,symbol:"square",r:2.6,fill:"#000",dx:3}),
    Plot.ruleY(hourTicks,{y:d=>d,x1:2,x2:14,stroke:"#000",strokeWidth:1}),
    Plot.ruleY(hourTicks,{y:d=>d,x1:1082,x2:1096,stroke:"#000",strokeWidth:1}),
    Plot.dot(hourTicks,{y:d=>d,x:()=>14,symbol:"square",r:2.6,fill:"#000",dx:-2,dy:2}),
    Plot.dot(hourTicks,{y:d=>d,x:()=>1082,symbol:"square",r:2.6,fill:"#000",dx:-4,dy:2}),
    Plot.frame({stroke:"#000",strokeWidth:1})
  ]
});
main.style.left="0px";main.style.top="0px";

const bandCount=64;
const bands=d3.range(bandCount).map(i=>({lo:i*30/bandCount,hi:(i+1)*30/bandCount}));
const bar=Plot.plot({
  width:431,height:1672,marginLeft:36,marginRight:311,marginTop:113,marginBottom:139,
  style:{background:"transparent",fontFamily:"Liberation Sans"},
  x:{domain:[0,1],axis:null},
  y:{domain:[0,30]},
  color:colorScale,
  marks:[
    Plot.rect(bands,{x1:()=>0,x2:()=>1,y1:"lo",y2:"hi",fill:d=>(d.lo+d.hi)/2,shapeRendering:"crispEdges"}),
    Plot.axisY({ticks:barTicks,anchor:"right",tickSize:7,tickPadding:3,label:null,...tickFont}),
    Plot.ruleY(barTicks,{y:d=>d,x1:0,x2:0.22,stroke:"#000",strokeWidth:1}),
    Plot.ruleY(barTicks,{y:d=>d,x1:0.78,x2:1,stroke:"#000",strokeWidth:1}),
    Plot.dot(barTicks,{y:d=>d,x:()=>0.19,symbol:"square",r:2.6,fill:"#000",dy:2}),
    Plot.dot(barTicks,{y:d=>d,x:()=>0.81,symbol:"square",r:2.6,fill:"#000",dy:2}),
    Plot.text(barNotes,{text:d=>d,y:(d,i)=>barNoteValues[i],frameAnchor:"left",textAnchor:"middle",fontSize:38.5,fontFamily:"Liberation Sans",fill:"#000",
      render(index,scales,values,dims,ctx,next){const g=next(index,scales,values,dims,ctx);g.querySelectorAll("text").forEach((t,k)=>{t.setAttribute("dx",barNoteOffsets[index[k]])});return g;}}),
    Plot.frame({stroke:"#000",strokeWidth:1})
  ]
});
bar.style.left="1880px";bar.style.top="0px";
document.getElementById("c").append(main,bar);
</script></body></html>
